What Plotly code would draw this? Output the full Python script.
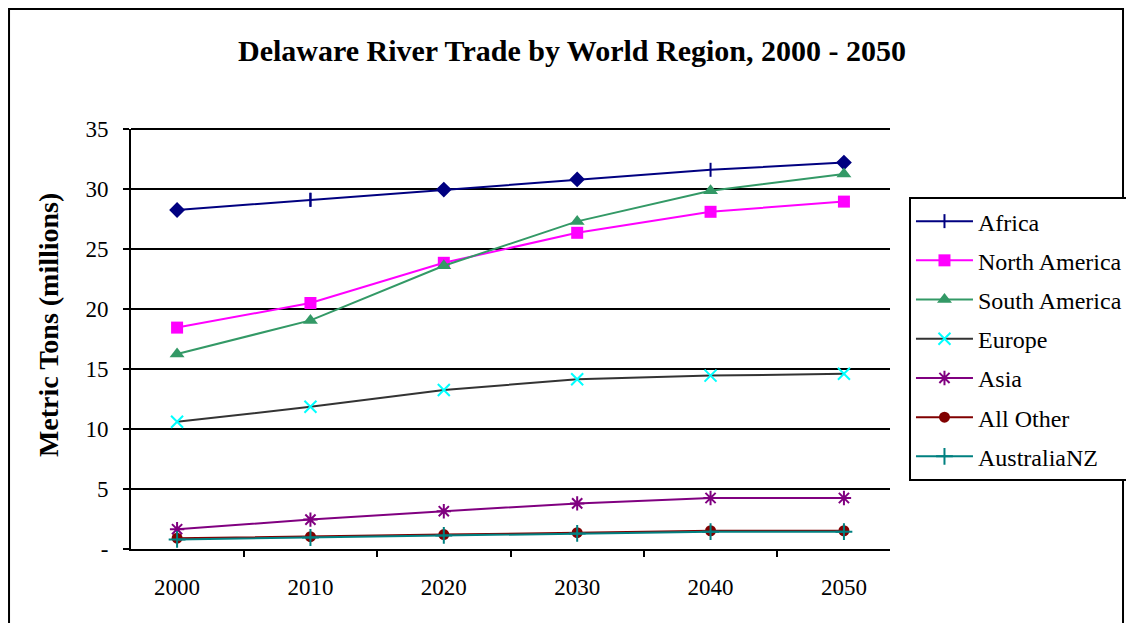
import plotly.graph_objects as go

# Forecast years (category axis) and regional trade volumes, million metric tons
years = ["2000", "2010", "2020", "2030", "2040", "2050"]

africa = [28.25, 29.1, 29.95, 30.8, 31.6, 32.2]
north_america = [18.45, 20.5, 23.85, 26.35, 28.1, 28.95]
south_america = [16.25, 19.05, 23.6, 27.3, 29.85, 31.25]
europe = [10.6, 11.85, 13.25, 14.15, 14.45, 14.6]
asia = [1.65, 2.45, 3.15, 3.8, 4.25, 4.25]
all_other = [0.9, 1.03, 1.2, 1.36, 1.52, 1.52]
australia_nz = [0.8, 0.96, 1.13, 1.3, 1.44, 1.44]

# Africa's individual points alternate between diamond and tick markers
africa_symbols = ["diamond", "line-ns", "diamond", "diamond", "line-ns", "diamond"]

y_tick_vals = [0, 5, 10, 15, 20, 25, 30, 35]
y_tick_text = ["-", "5", "10", "15", "20", "25", "30", "35"]
y_max = 35

FONT = "Liberation Serif, Times New Roman, serif"

fig = go.Figure()


def add_series(name, values, line_color, symbol, marker_color, size,
               open_marker=False):
    marker = dict(symbol=symbol, size=size, color=marker_color)
    if open_marker:
        marker["line"] = dict(color=marker_color, width=2)
    else:
        marker["line"] = dict(width=0)
    fig.add_trace(go.Scatter(
        x=years, y=values, name=name, mode="lines+markers",
        line=dict(color=line_color, width=2),
        marker=marker, legendgroup=name, cliponaxis=False,
    ))


# Africa: per-point symbols, legend shows the tick marker
fig.add_trace(go.Scatter(
    x=years, y=africa, name="Africa", mode="lines+markers",
    line=dict(color="#000080", width=2),
    marker=dict(symbol=africa_symbols, size=10, color="#000080",
                line=dict(color="#000080", width=2)),
    showlegend=False, legendgroup="Africa", cliponaxis=False,
))
fig.add_trace(go.Scatter(
    x=[years[1]], y=[africa[1]], name="Africa", mode="lines+markers",
    line=dict(color="#000080", width=2),
    marker=dict(symbol="line-ns", size=10, color="#000080",
                line=dict(color="#000080", width=2)),
    showlegend=True, legendgroup="Africa", cliponaxis=False,
))

add_series("North America", north_america, "#FF00FF", "square", "#FF00FF", 12)
add_series("South America", south_america, "#339966", "triangle-up", "#339966", 13)
add_series("Europe", europe, "#333333", "x-thin-open", "#00FFFF", 12, open_marker=True)
add_series("Asia", asia, "#800080", "asterisk-open", "#800080", 12, open_marker=True)
add_series("All Other", all_other, "#800000", "circle", "#800000", 11)
add_series("AustraliaNZ", australia_nz, "#008080", "cross-thin-open", "#008080", 12,
           open_marker=True)

# Outer chart border
fig.add_shape(type="rect", xref="paper", yref="paper",
              x0=-0.1607, x1=1.307, y0=-0.3, y1=1.2857,
              line=dict(color="black", width=2), fillcolor="rgba(0,0,0,0)",
              layer="below")

# Top gridline along the upper edge of the plot area
fig.add_shape(type="line", xref="paper", yref="paper",
              x0=0, x1=1, y0=1, y1=1,
              line=dict(color="black", width=2), layer="below")

# Vertical axis title
fig.add_annotation(
    text="<b>Metric Tons (millions)</b>", textangle=-90,
    xref="paper", yref="paper", x=-0.1094, y=0.533,
    xanchor="center", yanchor="middle",
    showarrow=False, font=dict(family=FONT, size=28, color="black"),
)

fig.update_layout(
    width=1126, height=623,
    margin=dict(l=131, r=236, t=129, b=74, autoexpand=False),
    paper_bgcolor="white", plot_bgcolor="white",
    font=dict(family=FONT, color="black", size=23),
    title=dict(
        text="<b>Delaware River Trade by World Region, 2000 - 2050</b>",
        xref="container", x=0.508, y=1 - 50 / 623,
        xanchor="center", yanchor="middle",
        font=dict(family=FONT, size=30, color="black"),
    ),
    showlegend=True,
    legend=dict(
        x=1.025, y=0.838, xanchor="left", yanchor="top",
        bordercolor="black", borderwidth=2, bgcolor="white",
        font=dict(family=FONT, size=24, color="black"),
        tracegroupgap=5, itemwidth=57,
    ),
    xaxis=dict(
        type="category", showgrid=False, zeroline=False,
        showline=True, linecolor="black", linewidth=2,
        ticks="outside", tickson="boundaries", ticklen=6, tickwidth=2,
        tickcolor="black", ticklabelstandoff=16,
        tickfont=dict(family=FONT, size=23),
    ),
    yaxis=dict(
        range=[0, y_max], tickvals=y_tick_vals, ticktext=y_tick_text,
        showgrid=True, gridcolor="black", gridwidth=2, zeroline=False,
        showline=True, linecolor="black", linewidth=2,
        ticks="outside", ticklen=6, tickwidth=2, tickcolor="black",
        ticklabelstandoff=10,
        tickfont=dict(family=FONT, size=23),
    ),
)

fig.write_html("out.html")
